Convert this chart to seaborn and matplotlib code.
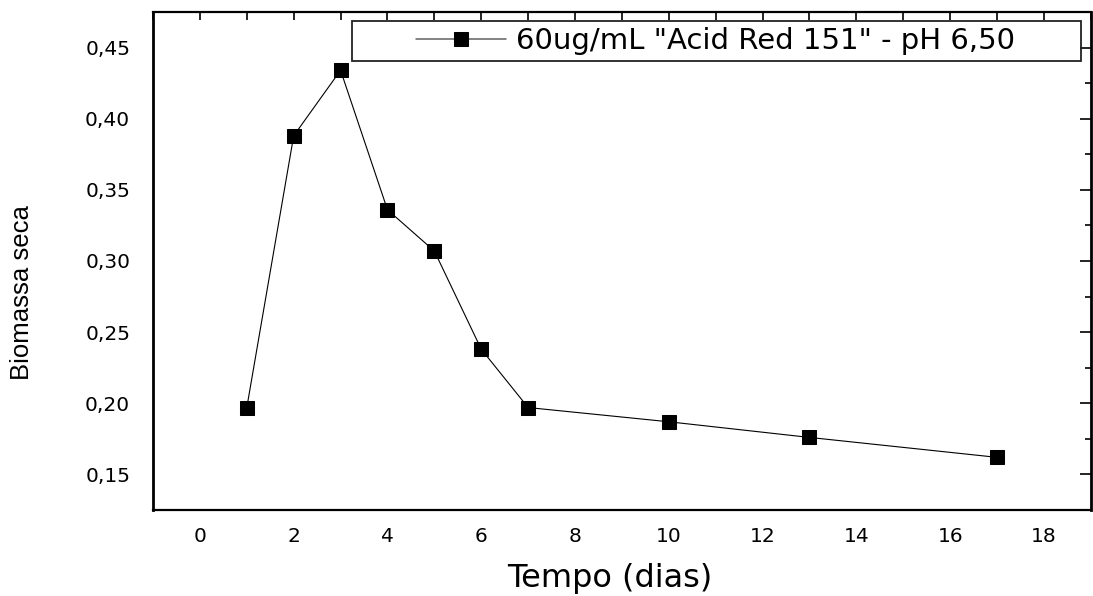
import matplotlib
matplotlib.use("Agg")
import matplotlib.pyplot as plt
import seaborn as sns
import pandas as pd
from matplotlib.ticker import MultipleLocator, FuncFormatter
from matplotlib.patches import Rectangle

dias = [1, 2, 3, 4, 5, 6, 7, 10, 13, 17]
biomassa = [0.197, 0.388, 0.434, 0.336, 0.307, 0.238, 0.197, 0.187, 0.176, 0.162]
serie = '60ug/mL "Acid Red 151" - pH 6,50'

sns.set_theme(style="white")
plt.rcParams['font.family'] = ['DejaVu Sans']

df = pd.DataFrame({"dias": dias, "biomassa": biomassa, "serie": serie})

fig = plt.figure(figsize=(10.93, 5.96), dpi=100)
ax = fig.add_axes([0.140, 0.1443, 0.858, 0.8356])

sns.lineplot(data=df, x="dias", y="biomassa", hue="serie", palette=["black"],
             marker="s", markersize=10.5, markeredgecolor="black", linewidth=0.8,
             ax=ax, legend=True)

ax.set_xlim(-1, 19)
ax.set_ylim(0.125, 0.475)
ax.xaxis.set_major_locator(MultipleLocator(2))
ax.xaxis.set_minor_locator(MultipleLocator(1))
ax.yaxis.set_major_locator(MultipleLocator(0.05))
ax.yaxis.set_minor_locator(MultipleLocator(0.025))
ax.yaxis.set_major_formatter(FuncFormatter(lambda v, p: f"{v:.2f}".replace(".", ",")))

for k, s in ax.spines.items():
    s.set_color("black")
    s.set_linewidth(1.6)
ax.spines["left"].set_linewidth(2.0)
ax.spines["right"].set_linewidth(2.0)

ax.tick_params(axis="both", which="both", direction="out", color="black",
               labelsize=14.5, labelcolor="black", width=1.2)
ax.tick_params(axis="x", which="major", length=5, pad=7)
ax.tick_params(axis="x", which="minor", length=4)
ax.tick_params(axis="y", which="major", length=9.4, pad=7)
ax.tick_params(axis="y", which="minor", length=5)
ax.tick_params(axis="x", which="both", top=True)
ax.tick_params(axis="y", which="both", right=True)
# top/right ticks point inward
for t in ax.xaxis.get_major_ticks() + ax.xaxis.get_minor_ticks():
    t.tick2line.set_marker(3)
    t.tick2line.set_markersize(6)
for t in ax.yaxis.get_major_ticks():
    t.tick2line.set_marker(0)
    t.tick2line.set_markersize(8)
for t in ax.yaxis.get_minor_ticks():
    t.tick2line.set_marker(0)
    t.tick2line.set_markersize(4.5)

ax.set_xlabel("Tempo (dias)", fontsize=23, color="black")
ax.xaxis.set_label_coords(0.487, -0.138, transform=ax.transAxes)
ax.xaxis.label.set_verticalalignment("center")
ax.set_ylabel("Biomassa seca", fontsize=18.5, color="black",
              family=["Liberation Sans", "DejaVu Sans"])
ax.yaxis.set_label_coords(-0.140, 0.436, transform=ax.transAxes)
ax.yaxis.label.set_verticalalignment("center")

h, l = ax.get_legend_handles_labels()
for hh in h:
    hh.set_color("#606060")
    hh.set_linewidth(1.1)
    hh.set_markerfacecolor("black")
    hh.set_markeredgecolor("black")
leg = ax.legend(h, l, loc="center", bbox_to_anchor=(0.5995, 0.942),
                fontsize=21, handlelength=3.1, handletextpad=0.34,
                frameon=False, borderpad=0.2, markerscale=0.95)
for t in leg.get_texts():
    t.set_color("black")
ax.add_patch(Rectangle((0.2122, 0.9016), 0.9893 - 0.2122, 0.982 - 0.9016,
                       transform=ax.transAxes, fill=False, edgecolor="#222222",
                       linewidth=1.3, zorder=5, clip_on=False))

fig.savefig("out.png", dpi=100)
